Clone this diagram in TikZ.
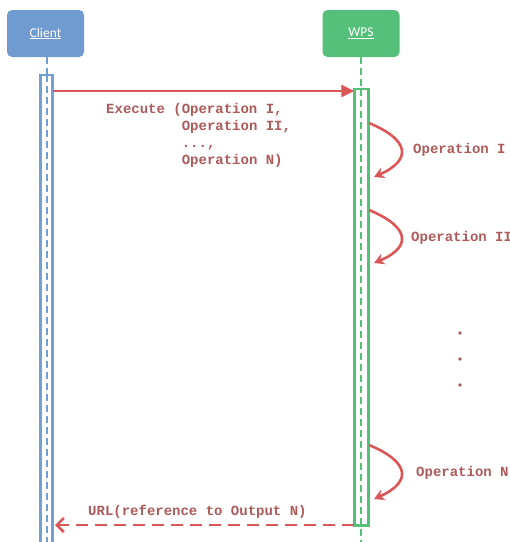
\documentclass[tikz,border=0pt]{standalone}
\usepackage{fontspec}
\setmainfont{Carlito}
\newfontfamily\codefont{Liberation Mono}
\usetikzlibrary{arrows.meta}
\definecolor{clientblue}{HTML}{6F9BD1}
\definecolor{clientline}{HTML}{729FD4}
\definecolor{wpsgreen}{HTML}{55C07A}
\definecolor{wpsline}{HTML}{55C178}
\definecolor{msgred}{HTML}{DB5656}
\definecolor{msgtext}{HTML}{AD5A5A}
\tikzset{
  actor/.style={rounded corners=5pt, minimum width=77pt, minimum height=47pt,
    text=white, font=\fontsize{13.5}{16}\selectfont, inner sep=0pt},
  lifeline/.style={dashed, dash pattern=on 7pt off 4pt, line width=2pt},
  activation/.style={line width=2.8pt, fill=white},
  msg/.style={draw=msgred, line width=2.6pt},
  msglabel/.style={text=msgtext, font=\codefont\bfseries\fontsize{14}{17}\selectfont,
    inner sep=0pt, anchor=west, align=left},
  selfcall/.style={msg, -{Stealth[length=10pt,width=11pt,inset=3pt]}},
  dotmark/.style={circle, fill=msgtext, inner sep=0pt, minimum size=3.8pt}
}
\begin{document}
\begin{tikzpicture}[x=1pt,y=-1pt]
\useasboundingbox (0,0) rectangle (510,542);

% participants
\node[actor, fill=clientblue] (client) at (45.5,33.5) {\underline{Client}};
\node[actor, fill=wpsgreen] (wps) at (361,33.5) {\underline{WPS}};

% lifelines above the activation bars
\coordinate (cTop) at (46.5,75);
\coordinate (wTop) at (361.3,89);
\draw[clientline, lifeline] (client.south -| cTop) -- (cTop);
\draw[wpsline, lifeline] (wps.south -| wTop) -- (wTop);

% activation bars
\draw[clientline, activation] (40.5,75) rectangle (52.5,560);
\draw[wpsline, activation] (354.3,89) rectangle (368.3,525.5);

% lifelines inside the bars
\coordinate (cBot) at (46.5,560);
\coordinate (wBot) at (361.3,560);
\draw[clientline, lifeline] (cTop) -- (cBot);
\draw[wpsline, lifeline] (wTop) -- (wBot);

% request
\coordinate (reqS) at (52.5,91);
\coordinate (reqE) at (354.3,91);
\draw[msg, -{Triangle[length=13pt,width=12pt]}] (reqS) -- (reqE);
\node[msglabel] (exec) at (106,135.5)
  {Execute (Operation I,\\
  \phantom{Execute (}Operation II,\\
  \phantom{Execute (}...,\\
  \phantom{Execute (}Operation N)};

% internal operations
\coordinate (o1s) at (369,123);
\coordinate (o1e) at (374,177);
\draw[selfcall] (o1s) .. controls (410,140) and (412,160) .. (o1e);
\node[msglabel] (op1) at (413,150) {Operation I};

\coordinate (o2s) at (369,210);
\coordinate (o2e) at (374,263);
\draw[selfcall] (o2s) .. controls (410,227) and (412,247) .. (o2e);
\node[msglabel] (op2) at (411,237.5) {Operation II};

\node[dotmark] (d1) at (460,333) {};
\node[dotmark] (d2) at (460,359) {};
\node[dotmark] (d3) at (460,385) {};

\coordinate (o3s) at (369,445);
\coordinate (o3e) at (374,499);
\draw[selfcall] (o3s) .. controls (410,462) and (412,482) .. (o3e);
\node[msglabel] (opN) at (416,472.5) {Operation N};

% response
\coordinate (resS) at (354.3,525);
\coordinate (resE) at (55,525);
\draw[msg, dash pattern=on 12pt off 7pt, -{Straight Barb[length=7pt,width=14pt]}] (resS) -- (resE);
\node[msglabel] (url) at (88,512) {URL(reference to Output N)};
\end{tikzpicture}
\end{document}
